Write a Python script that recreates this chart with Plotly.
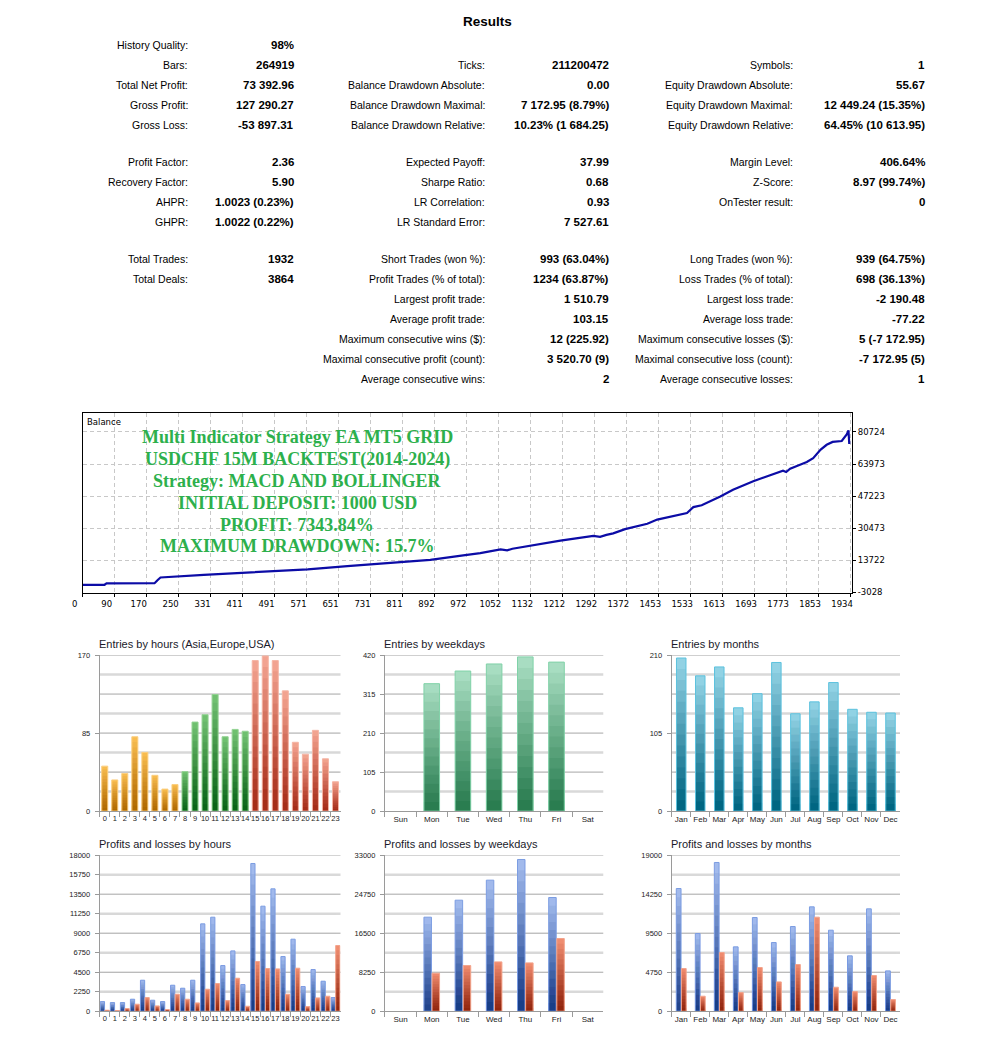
import plotly.graph_objects as go

# ================= DATA =================
report_title = "Results"

group1_col1 = [("History Quality:", "98%"), ("Bars:", "264919"), ("Total Net Profit:", "73 392.96"),
               ("Gross Profit:", "127 290.27"), ("Gross Loss:", "-53 897.31")]
group1_col2 = [None, ("Ticks:", "211200472"), ("Balance Drawdown Absolute:", "0.00"),
               ("Balance Drawdown Maximal:", "7 172.95 (8.79%)"),
               ("Balance Drawdown Relative:", "10.23% (1 684.25)")]
group1_col3 = [None, ("Symbols:", "1"), ("Equity Drawdown Absolute:", "55.67"),
               ("Equity Drawdown Maximal:", "12 449.24 (15.35%)"),
               ("Equity Drawdown Relative:", "64.45% (10 613.95)")]
group2_col1 = [("Profit Factor:", "2.36"), ("Recovery Factor:", "5.90"),
               ("AHPR:", "1.0023 (0.23%)"), ("GHPR:", "1.0022 (0.22%)")]
group2_col2 = [("Expected Payoff:", "37.99"), ("Sharpe Ratio:", "0.68"),
               ("LR Correlation:", "0.93"), ("LR Standard Error:", "7 527.61")]
group2_col3 = [("Margin Level:", "406.64%"), ("Z-Score:", "8.97 (99.74%)"),
               ("OnTester result:", "0"), None]
group3_col1 = [("Total Trades:", "1932"), ("Total Deals:", "3864")]
group3_col2 = [("Short Trades (won %):", "993 (63.04%)"), ("Profit Trades (% of total):", "1234 (63.87%)"),
               ("Largest profit trade:", "1 510.79"), ("Average profit trade:", "103.15"),
               ("Maximum consecutive wins ($):", "12 (225.92)"),
               ("Maximal consecutive profit (count):", "3 520.70 (9)"),
               ("Average consecutive wins:", "2")]
group3_col3 = [("Long Trades (won %):", "939 (64.75%)"), ("Loss Trades (% of total):", "698 (36.13%)"),
               ("Largest loss trade:", "-2 190.48"), ("Average loss trade:", "-77.22"),
               ("Maximum consecutive losses ($):", "5 (-7 172.95)"),
               ("Maximal consecutive loss (count):", "-7 172.95 (5)"),
               ("Average consecutive losses:", "1")]

balance_title = "Balance"
overlay_lines = ["Multi Indicator Strategy EA MT5 GRID",
                 "USDCHF 15M BACKTEST(2014-2024)",
                 "Strategy: MACD AND BOLLINGER",
                 "INITIAL DEPOSIT: 1000 USD",
                 "PROFIT: 7343.84%",
                 "MAXIMUM DRAWDOWN: 15.7%"]

balance_trades = [0, 55, 60, 181, 189, 196, 305, 466, 567, 667, 801, 876, 959, 1002, 1053, 1070, 1083,
                  1128, 1204, 1287, 1304, 1320, 1337, 1367, 1423, 1448, 1523, 1539, 1560, 1607, 1639, 1690,
                  1732, 1765, 1773, 1783, 1800, 1825, 1841, 1851, 1860, 1875, 1890, 1913, 1926, 1930, 1932]
balance_values = [1000, 1000, 1700, 1800, 3500, 4800, 6200, 7900, 9000, 10700, 12800, 14000, 16300,
                  17500, 19500, 19000, 19800, 21500, 24000, 26500, 26000, 27000, 27800, 30000, 32800,
                  35000, 38400, 41500, 42500, 47000, 50500, 55000, 58000, 60500, 59800, 61500, 63000,
                  65000, 67000, 69500, 71500, 74000, 75500, 76000, 79500, 81566, 74393]
balance_x_labels = ["0", "90", "170", "250", "331", "411", "491", "571", "651", "731", "811", "892", "972",
                    "1052", "1132", "1212", "1292", "1372", "1453", "1533", "1613", "1693", "1773", "1853", "1934"]
balance_y_ticks = [-3028, 13722, 30473, 47223, 63973, 80724]

hour_labels = [str(h) for h in range(24)]
weekday_labels = ["Sun", "Mon", "Tue", "Wed", "Thu", "Fri", "Sat"]
month_labels = ["Jan", "Feb", "Mar", "Apr", "May", "Jun", "Jul", "Aug", "Sep", "Oct", "Nov", "Dec"]

entries_hours = [49, 34, 41, 81, 64, 39, 24, 29, 43, 97, 105, 127, 81, 89, 87, 164, 169, 164, 131, 75, 62, 88, 57, 32]
entries_weekdays = [0, 343, 377, 396, 415, 401, 0]
entries_months = [206, 182, 194, 139, 158, 200, 131, 147, 173, 137, 133, 132]

profit_hours = [1115, 1000, 1000, 1385, 3577, 1269, 1115, 3000, 2654, 3577, 10077, 10846, 5269, 6961, 3077,
                17038, 12115, 14115, 6308, 8308, 2846, 4808, 3462, 1577]
loss_hours = [115, 77, 308, 808, 1577, 615, 192, 1961, 1385, 962, 2538, 3192, 1231, 3808, 577,
              5731, 4923, 4885, 1961, 4962, 538, 1538, 1731, 7577]
profit_weekdays = [0, 19885, 23481, 27712, 32083, 24044, 0]
loss_weekdays = [0, 8038, 9660, 10436, 10224, 15371, 0]
profit_months = [14940, 9460, 18108, 7836, 11409, 8364, 10312, 12708, 9866, 6740, 12464, 4913]
loss_months = [5197, 1827, 7145, 2274, 5319, 3573, 5684, 11449, 2923, 2395, 4344, 1421]

ticks_entries_hours = [0, 85, 170]
ticks_entries_weekdays = [0, 105, 210, 315, 420]
ticks_entries_months = [0, 105, 210]
ticks_pl_hours = [0, 2250, 4500, 6750, 9000, 11250, 13500, 15750, 18000]
ticks_pl_weekdays = [0, 8250, 16500, 24750, 33000]
ticks_pl_months = [0, 4750, 9500, 14250, 19000]

# ================= LAYOUT HELPERS =================
W, H, OFF = 970, 1030, 8
# measured page -> picture correction
SX, BXP = 0.9885, 10.3
SY, BYP = 0.9907, 4.4


def fx(x):
    return ((x - BXP) / SX - OFF) / W


def fy(y):
    return 1 - ((y - BYP) / SY - OFF) / H


TXT_FONT = "Liberation Sans, Arial, sans-serif"
AX_FONT = "DejaVu Sans, Verdana, sans-serif"

fig = go.Figure()
annotations = []
shapes = []

# ---------- title + table ----------
annotations.append(dict(text=report_title, x=fx(487), y=fy(22), xref="paper", yref="paper",
                        xanchor="center", yanchor="middle", showarrow=False,
                        font=dict(family=TXT_FONT, size=13.5, color="#000", weight="bold")))

label_right = [189, 487, 795]
value_right = [294, 610, 926]
groups = [
    (45, [group1_col1, group1_col2, group1_col3]),
    (162, [group2_col1, group2_col2, group2_col3]),
    (259, [group3_col1, group3_col2, group3_col3]),
]
ROW = 20
for y0, cols in groups:
    for ci, col in enumerate(cols):
        for ri, item in enumerate(col):
            if item is None:
                continue
            lab, val = item
            yy = fy(y0 + ri * ROW)
            annotations.append(dict(text=lab, x=fx(label_right[ci]), y=yy, xref="paper", yref="paper",
                                    xanchor="right", yanchor="middle", showarrow=False,
                                    font=dict(family=TXT_FONT, size=10.5, color="#000")))
            annotations.append(dict(text=val, x=fx(value_right[ci] + 1), y=yy, xref="paper", yref="paper",
                                    xanchor="right", yanchor="middle", showarrow=False,
                                    font=dict(family=TXT_FONT, size=11.5, color="#000", weight="bold")))

# ---------- balance chart ----------
BX0, BX1, BY0, BY1 = 82, 852, 413, 592.5
n_grid = len(balance_x_labels) - 1
last_lbl = float(balance_x_labels[-1])
grid_step = last_lbl / n_grid
x_max = last_lbl + grid_step * 2.0 / 32.0
y_px_per_unit = (BY1 - 432) / (balance_y_ticks[-1] - balance_y_ticks[0])
y_top = balance_y_ticks[-1] + (432 - BY0) / y_px_per_unit

fig.add_trace(go.Scatter(x=balance_trades, y=balance_values, mode="lines", xaxis="x", yaxis="y",
                         line=dict(color="#0c0ca6", width=2.2), hoverinfo="skip", showlegend=False))

fig.update_layout(
    xaxis=dict(domain=[fx(BX0), fx(BX1)], range=[0, x_max], anchor="y",
               tickmode="array", tickvals=[i * grid_step for i in range(n_grid + 1)], ticktext=balance_x_labels,
               showgrid=True, gridcolor="#c8c8c8", griddash="4px,3px", gridwidth=1,
               showline=True, linecolor="#000", linewidth=1, mirror=True, zeroline=False,
               ticks="outside", ticklen=3, tickcolor="#000", ticklabelshift=-8, tickangle=0,
               tickfont=dict(family=AX_FONT, size=8.5, color="#000"), fixedrange=True),
    yaxis=dict(domain=[fy(BY1), fy(BY0)], range=[balance_y_ticks[0], y_top], anchor="x", side="right",
               tickmode="array", tickvals=balance_y_ticks, ticktext=[str(v) for v in balance_y_ticks],
               showgrid=True, gridcolor="#c8c8c8", griddash="4px,3px", gridwidth=1,
               showline=True, linecolor="#000", linewidth=1, mirror=True, zeroline=False,
               ticks="outside", ticklen=3, tickcolor="#000",
               tickfont=dict(family=AX_FONT, size=8.5, color="#000"), fixedrange=True),
)
annotations.append(dict(text=balance_title, x=fx(84), y=fy(422), xref="paper", yref="paper",
                        xanchor="left", yanchor="middle", showarrow=False,
                        font=dict(family=AX_FONT, size=8.5, color="#000")))
for i, line in enumerate(overlay_lines):
    annotations.append(dict(text=line, x=fx(296.5), y=fy(437.5 + i * 21.8), xref="paper", yref="paper",
                            xanchor="center", yanchor="middle", showarrow=False,
                            font=dict(family="Liberation Serif, Times New Roman, serif", size=18,
                                      color="#2db04c", weight="bold")))

# ---------- bar charts ----------
N_SHADE = 14


def add_gradient_bars(xa, ya, cats, vals, top, bottom, edge, width, offset):
    keep = [i for i, v in enumerate(vals) if v > 0]
    cats_k = [cats[i] for i in keep]
    vals_k = [vals[i] for i in keep]

    def pick(c):
        return [c[i] for i in keep] if isinstance(c, list) else c

    common = dict(x=cats_k, xaxis=xa, yaxis=ya, width=width, offset=offset, hoverinfo="skip", showlegend=False)
    fig.add_trace(go.Bar(y=vals_k, marker=dict(color=pick(top), line=dict(width=0)), **common))
    for k in range(N_SHADE - 1, 0, -1):
        fig.add_trace(go.Bar(y=[v * k / N_SHADE for v in vals_k],
                             marker=dict(color=pick(bottom), line=dict(width=0)),
                             opacity=1.0 / k, **common))
    fig.add_trace(go.Bar(y=vals_k, marker=dict(color="rgba(0,0,0,0)", line=dict(color=pick(edge), width=1)),
                         **common))


def session_colors(palette):
    out = []
    for h in range(24):
        if h < 8:
            out.append(palette[0])
        elif h < 15:
            out.append(palette[1])
        else:
            out.append(palette[2])
    return out


charts = [
    dict(n=2, x0=99, x1=340, ytop=655, ybot=811, cats=hour_labels, ticks=ticks_entries_hours,
         title="Entries by hours (Asia,Europe,USA)", tsize=7.5),
    dict(n=3, x0=384.5, x1=603, ytop=655, ybot=811, cats=weekday_labels, ticks=ticks_entries_weekdays,
         title="Entries by weekdays", tsize=8),
    dict(n=4, x0=671.5, x1=900, ytop=655, ybot=811, cats=month_labels, ticks=ticks_entries_months,
         title="Entries by months", tsize=8),
    dict(n=5, x0=99, x1=340, ytop=855, ybot=1011, cats=hour_labels, ticks=ticks_pl_hours,
         title="Profits and losses by hours", tsize=7.5),
    dict(n=6, x0=384.5, x1=603, ytop=855, ybot=1011, cats=weekday_labels, ticks=ticks_pl_weekdays,
         title="Profits and losses by weekdays", tsize=8),
    dict(n=7, x0=671.5, x1=900, ytop=855, ybot=1011, cats=month_labels, ticks=ticks_pl_months,
         title="Profits and losses by months", tsize=8),
]

GRID_DARK = "#a6a6a6"
GRID_LIGHT = "#d9d9d9"
AXIS_GREY = "#9a9a9a"

for c in charts:
    n = c["n"]
    xa, ya = f"x{n}", f"y{n}"
    ymax = c["ticks"][-1]
    step = ymax / 8.0
    fig.layout[f"xaxis{n}"] = dict(domain=[fx(c["x0"]), fx(c["x1"])], anchor=ya, type="category",
                                   categoryorder="array", categoryarray=c["cats"],
                                   range=[-0.5, len(c["cats"]) - 0.5], showgrid=False, zeroline=False,
                                   showline=True, linecolor=AXIS_GREY, linewidth=1, tickangle=0,
                                   ticks="outside", tickson="boundaries", ticklen=5, tickcolor=AXIS_GREY,
                                   tickfont=dict(family=TXT_FONT, size=c["tsize"], color="#222"),
                                   fixedrange=True)
    fig.layout[f"yaxis{n}"] = dict(domain=[fy(c["ybot"]), fy(c["ytop"])], anchor=xa, range=[0, ymax],
                                   tickmode="array", tickvals=c["ticks"], ticktext=[str(v) for v in c["ticks"]],
                                   showgrid=False, zeroline=False, showline=True, linecolor=AXIS_GREY,
                                   linewidth=1, ticks="outside", ticklen=4, tickcolor=AXIS_GREY,
                                   ticklabelstandoff=3,
                                   tickfont=dict(family=TXT_FONT, size=7.5, color="#222"), fixedrange=True)
    for i in range(1, 9):
        if i % 2 == 1:
            shapes.append(dict(type="line", xref=f"{xa} domain", yref=ya, x0=0, x1=1, y0=i * step, y1=i * step,
                               line=dict(color=GRID_LIGHT, width=2.5), layer="below"))
    for i in range(1, 9):
        if i % 2 == 0:
            shapes.append(dict(type="line", xref=f"{xa} domain", yref=ya, x0=0, x1=1, y0=i * step, y1=i * step,
                               line=dict(color=GRID_DARK, width=1), layer="below"))
    annotations.append(dict(text=c["title"], x=fx(c["x0"] - 2.5), y=fy(c["ytop"] - 11), xref="paper",
                            yref="paper", xanchor="left", yanchor="middle", showarrow=False,
                            font=dict(family=TXT_FONT, size=11, color="#1a1a2a")))

# entries by hours (Asia / Europe / USA sessions)
add_gradient_bars("x2", "y2", hour_labels, entries_hours,
                  session_colors(["#f8bd55", "#74c174", "#f2a391"]),
                  session_colors(["#b06a00", "#0a6418", "#a52d18"]),
                  session_colors(["#fbcf80", "#92d292", "#f5b5a5"]), 0.6, -0.3)
# entries by weekdays
add_gradient_bars("x3", "y3", weekday_labels, entries_weekdays,
                  "#a8ddc2", "#2a7d50", "#80d2a8", 0.5, -0.25)
# entries by months
add_gradient_bars("x4", "y4", month_labels, entries_months,
                  "#92d2e4", "#006682", "#5cc2de", 0.5, -0.25)
# profits / losses by hours
add_gradient_bars("x5", "y5", hour_labels, profit_hours, "#a2baec", "#22448c", "#7c9de2", 0.42, -0.44)
add_gradient_bars("x5", "y5", hour_labels, loss_hours, "#ef8d70", "#92260e", "#f3a48c", 0.42, 0.02)
# profits / losses by weekdays
add_gradient_bars("x6", "y6", weekday_labels, profit_weekdays, "#a2baec", "#22448c", "#7c9de2", 0.24, -0.25)
add_gradient_bars("x6", "y6", weekday_labels, loss_weekdays, "#ef8d70", "#92260e", "#f3a48c", 0.24, 0.01)
# profits / losses by months
add_gradient_bars("x7", "y7", month_labels, profit_months, "#a2baec", "#22448c", "#7c9de2", 0.25, -0.26)
add_gradient_bars("x7", "y7", month_labels, loss_months, "#ef8d70", "#92260e", "#f3a48c", 0.25, 0.01)

fig.update_layout(width=W, height=H, autosize=False, margin=dict(l=0, r=0, t=0, b=0),
                  paper_bgcolor="white", plot_bgcolor="white", barmode="overlay", hovermode=False,
                  showlegend=False, annotations=annotations, shapes=shapes)

fig.write_html("out.html")
